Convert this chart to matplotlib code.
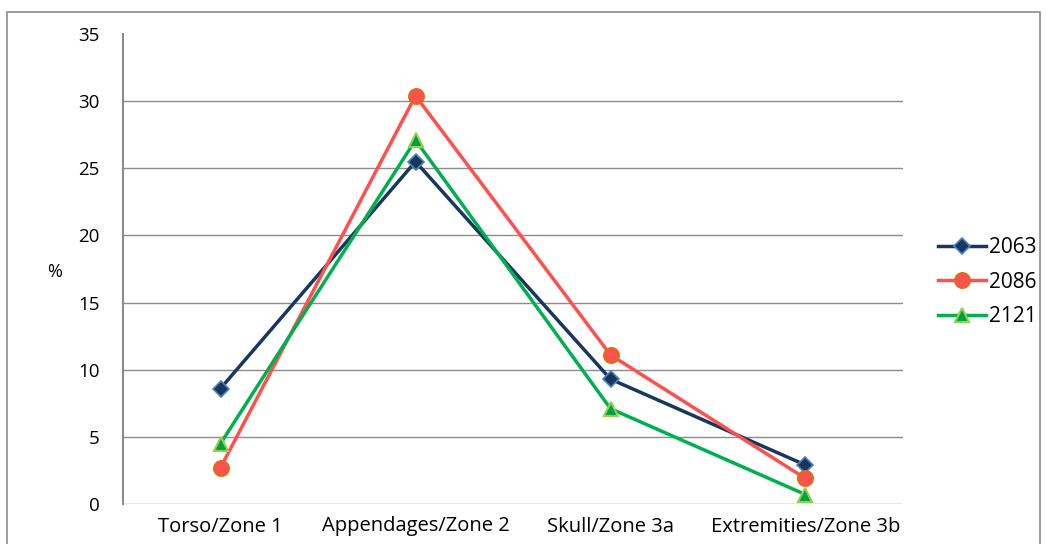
import matplotlib
matplotlib.use("Agg")
import matplotlib.pyplot as plt
from matplotlib.patches import Rectangle

categories = ["Torso/Zone 1", "Appendages/Zone 2", "Skull/Zone 3a", "Extremities/Zone 3b"]
s2063 = [8.6, 25.5, 9.3, 2.9]
s2086 = [2.7, 30.4, 11.1, 1.9]
s2121 = [4.5, 27.1, 7.1, 0.7]
yticks = [0, 5, 10, 15, 20, 25, 30, 35]

plt.rcParams['font.family'] = ['Open Sans', 'DejaVu Sans']

fig = plt.figure(figsize=(10.47, 5.44), dpi=100)
fig.patches.append(Rectangle((7/1047, -0.01), (1040-7)/1047, 1 - 12/544 + 0.01,
                             transform=fig.transFigure, fill=False,
                             edgecolor="#8c8c8c", linewidth=1.2))
ax = fig.add_axes([123/1047, 1 - 504/544, (903-123)/1047, (504-34)/544])

x = list(range(len(categories)))
ax.plot(x, s2063, color="#17375E", linewidth=2.5, marker="D", markersize=8,
        markerfacecolor="#17375E", markeredgecolor="#4F81BD", markeredgewidth=1.2, label="2063")
ax.plot(x, s2086, color="#FF5050", linewidth=2.5, marker="o", markersize=11,
        markerfacecolor="#F9534F", markeredgecolor="#E46C0A", markeredgewidth=1.2, label="2086")
ax.plot(x, s2121, color="#00B050", linewidth=2.5, marker="^", markersize=10,
        markerfacecolor="#00A040", markeredgecolor="#92D050", markeredgewidth=1.5, label="2121")

ax.set_xlim(-0.5, len(categories) - 0.5)
ax.set_ylim(0, 35)
ax.set_yticks(yticks)
ax.set_yticklabels([str(v) for v in yticks], fontsize=13.5)
ax.set_xticks(x)
ax.set_xticklabels(categories, fontsize=14.5)
ax.tick_params(length=0)
ax.tick_params(axis='y', pad=17)
ax.tick_params(axis='x', pad=9)
ax.grid(axis='y', color="#8c8c8c", linewidth=1)
gl = ax.get_ygridlines()
gl[-1].set_visible(False)
ax.set_axisbelow(True)
for s in ["top", "right", "bottom"]:
    ax.spines[s].set_visible(False)
ax.spines["left"].set_color("#8c8c8c")
ax.spines["left"].set_linewidth(1.5)

fig.text(55/1047, 1 - 272/544, "%", fontsize=13, ha="center", va="center")

leg = fig.legend(loc="center left", bbox_to_anchor=(938/1047, 1 - 282/544), frameon=False,
                 fontsize=15, handlelength=2.3, labelspacing=0.65, handletextpad=0.15,
                 borderpad=0, borderaxespad=0)

fig.savefig("out.png", dpi=100)
